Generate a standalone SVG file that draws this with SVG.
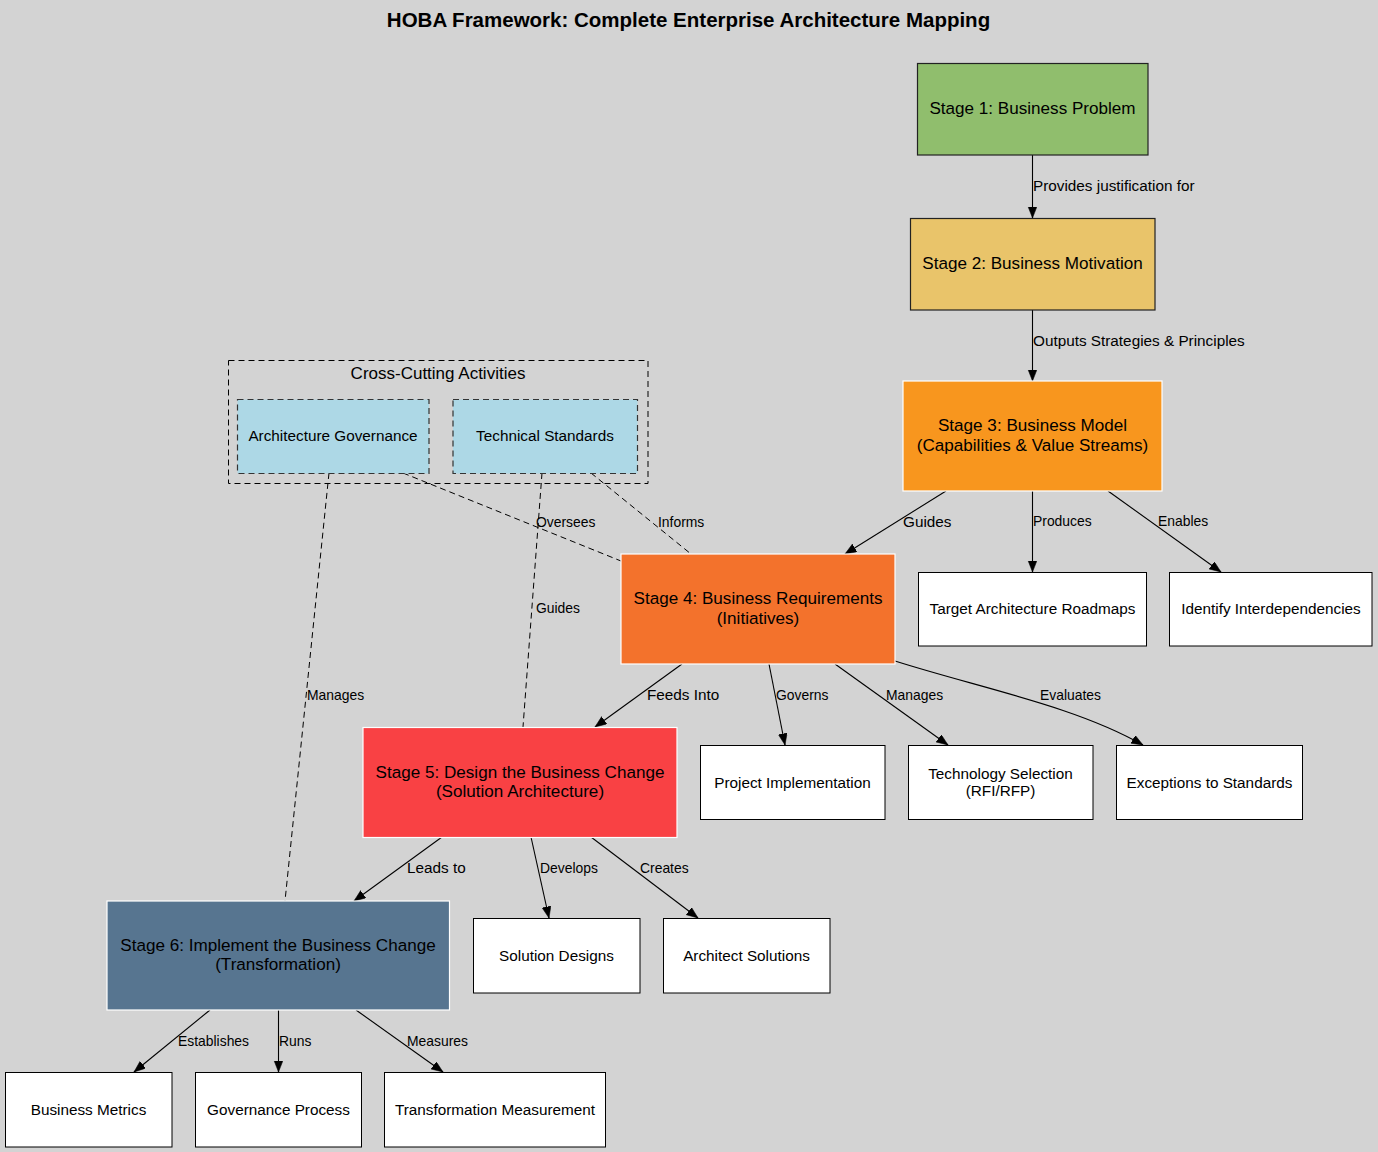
<svg xmlns="http://www.w3.org/2000/svg" width="1378" height="1152" viewBox="0 0 1378 1152">
<defs>
<marker id="arr" markerUnits="userSpaceOnUse" markerWidth="13" markerHeight="10" refX="11.5" refY="4.5" orient="auto">
<path d="M0,0 L11.5,4.5 L0,9 z" fill="#000" stroke="#000" stroke-width="0.5"/>
</marker>
<style>
text{font-family:"Liberation Sans",Arial,sans-serif;fill:#000}
.title{font-size:20.5px;font-weight:bold}
.st{font-size:17.1px;text-anchor:middle}
.lf{font-size:15.3px;text-anchor:middle}
.ml{font-size:15.3px}
.sl{font-size:13.9px}
.cl{font-size:17px;text-anchor:middle}
.leaf{fill:#fff;stroke:#000;stroke-width:1}
.edge{fill:none;stroke:#000;stroke-width:1.1;marker-end:url(#arr)}
.dash{fill:none;stroke:#000;stroke-width:1;stroke-dasharray:6,4}
.cc{fill:#add8e6;stroke:#333;stroke-width:1.2;stroke-dasharray:6,4}
</style>
</defs>
<rect x="0" y="0" width="1378" height="1152" fill="#d3d3d3"/>
<text class="title" x="688.5" y="27" text-anchor="middle">HOBA Framework: Complete Enterprise Architecture Mapping</text>

<g id="cluster-crosscutting">
<rect x="228.5" y="360.5" width="419.5" height="123" fill="none" stroke="#000" stroke-width="1" stroke-dasharray="6,4"/>
<text class="cl" x="438" y="379">Cross-Cutting Activities</text>
</g>

<g id="connectors">
<path class="edge" d="M1032.5,155 L1032.5,218"/>
<path class="edge" d="M1032.5,310 L1032.5,381"/>
<path class="edge" d="M946,491 L845,554"/>
<path class="edge" d="M1032.5,491 L1032.5,572"/>
<path class="edge" d="M1108,491 L1221,572"/>
<path class="dash" d="M403,473 L621,561"/>
<path class="dash" d="M591,473 L691,554"/>
<path class="dash" d="M329,473 L285,901"/>
<path class="dash" d="M542,473 L523,727"/>
<path class="edge" d="M682,664 L595,727"/>
<path class="edge" d="M769,664 L785,745"/>
<path class="edge" d="M835,664 L948,745"/>
<path class="edge" d="M895,661 C980,688 1075,706 1143,745"/>
<path class="edge" d="M442,837 L354,901"/>
<path class="edge" d="M531,837 L549,918"/>
<path class="edge" d="M591,837 L698,918"/>
<path class="edge" d="M210,1010 L134,1072"/>
<path class="edge" d="M278.5,1010 L278.5,1072"/>
<path class="edge" d="M356,1010 L443,1072"/>
<text class="ml" x="1033" y="191">Provides justification for</text>
<text class="ml" x="1033" y="346">Outputs Strategies &amp; Principles</text>
<text class="ml" x="903" y="527">Guides</text>
<text class="sl" x="1033" y="526">Produces</text>
<text class="sl" x="1158" y="526">Enables</text>
<text class="sl" x="536" y="526.5">Oversees</text>
<text class="sl" x="658" y="526.5">Informs</text>
<text class="sl" x="307" y="700">Manages</text>
<text class="sl" x="536" y="613">Guides</text>
<text class="ml" x="647" y="700">Feeds Into</text>
<text class="sl" x="776" y="700">Governs</text>
<text class="sl" x="886" y="700">Manages</text>
<text class="sl" x="1040" y="700">Evaluates</text>
<text class="ml" x="407" y="873">Leads to</text>
<text class="sl" x="540" y="873">Develops</text>
<text class="sl" x="640" y="873">Creates</text>
<text class="sl" x="178" y="1045.5">Establishes</text>
<text class="sl" x="279" y="1045.5">Runs</text>
<text class="sl" x="407" y="1045.5">Measures</text>
</g>

<g id="stage1">
<rect x="917.5" y="63.5" width="230.5" height="91.5" fill="#90be6d" stroke="#222" stroke-width="1.2"/>
<text class="st" x="1032.5" y="114">Stage 1: Business Problem</text>
</g>
<g id="stage2">
<rect x="910.5" y="218.5" width="244.5" height="91.5" fill="#e9c46a" stroke="#222" stroke-width="1.2"/>
<text class="st" x="1032.5" y="269">Stage 2: Business Motivation</text>
</g>
<g id="stage3">
<rect x="903" y="381" width="259" height="110" fill="#f8961e" stroke="#fff" stroke-width="1.2"/>
<text class="st" x="1032.5" y="431">Stage 3: Business Model</text>
<text class="st" x="1032.5" y="451">(Capabilities &amp; Value Streams)</text>
</g>
<g id="target-roadmaps">
<rect class="leaf" x="918.5" y="572.5" width="228" height="73.5"/>
<text class="lf" x="1032.5" y="614">Target Architecture Roadmaps</text>
</g>
<g id="interdependencies">
<rect class="leaf" x="1169.5" y="572.5" width="202.5" height="73.5"/>
<text class="lf" x="1271" y="614">Identify Interdependencies</text>
</g>
<g id="stage4">
<rect x="621" y="554" width="274" height="110" fill="#f3722c" stroke="#fff" stroke-width="1.2"/>
<text class="st" x="758" y="604">Stage 4: Business Requirements</text>
<text class="st" x="758" y="624">(Initiatives)</text>
</g>
<g id="project-implementation">
<rect class="leaf" x="700.5" y="745.5" width="184.5" height="74"/>
<text class="lf" x="792.5" y="787.5">Project Implementation</text>
</g>
<g id="technology-selection">
<rect class="leaf" x="908.5" y="745.5" width="184.5" height="74"/>
<text class="lf" x="1000.5" y="778.5">Technology Selection</text>
<text class="lf" x="1000.5" y="796">(RFI/RFP)</text>
</g>
<g id="exceptions">
<rect class="leaf" x="1116.5" y="745.5" width="186" height="74"/>
<text class="lf" x="1209.5" y="787.5">Exceptions to Standards</text>
</g>
<g id="stage5">
<rect x="363" y="727.5" width="314" height="110" fill="#f94144" stroke="#fff" stroke-width="1.2"/>
<text class="st" x="520" y="778">Stage 5: Design the Business Change</text>
<text class="st" x="520" y="797">(Solution Architecture)</text>
</g>
<g id="solution-designs">
<rect class="leaf" x="473.5" y="918.5" width="166.5" height="74.5"/>
<text class="lf" x="556.5" y="961">Solution Designs</text>
</g>
<g id="architect-solutions">
<rect class="leaf" x="663.5" y="918.5" width="166.5" height="74.5"/>
<text class="lf" x="746.5" y="961">Architect Solutions</text>
</g>
<g id="stage6">
<rect x="107" y="901" width="342.5" height="109" fill="#577590" stroke="#fff" stroke-width="1.2"/>
<text class="st" x="278" y="951">Stage 6: Implement the Business Change</text>
<text class="st" x="278" y="970">(Transformation)</text>
</g>
<g id="business-metrics">
<rect class="leaf" x="5.5" y="1072.5" width="166.5" height="74.5"/>
<text class="lf" x="88.5" y="1114.5">Business Metrics</text>
</g>
<g id="governance-process">
<rect class="leaf" x="195.5" y="1072.5" width="166" height="74.5"/>
<text class="lf" x="278.5" y="1114.5">Governance Process</text>
</g>
<g id="transformation-measurement">
<rect class="leaf" x="384.5" y="1072.5" width="221" height="74.5"/>
<text class="lf" x="495" y="1114.5">Transformation Measurement</text>
</g>
<g id="architecture-governance">
<rect class="cc" x="237.5" y="399.5" width="191.5" height="74"/>
<text class="lf" x="333" y="441">Architecture Governance</text>
</g>
<g id="technical-standards">
<rect class="cc" x="453" y="399.5" width="184.5" height="74"/>
<text class="lf" x="545" y="441">Technical Standards</text>
</g>
</svg>
